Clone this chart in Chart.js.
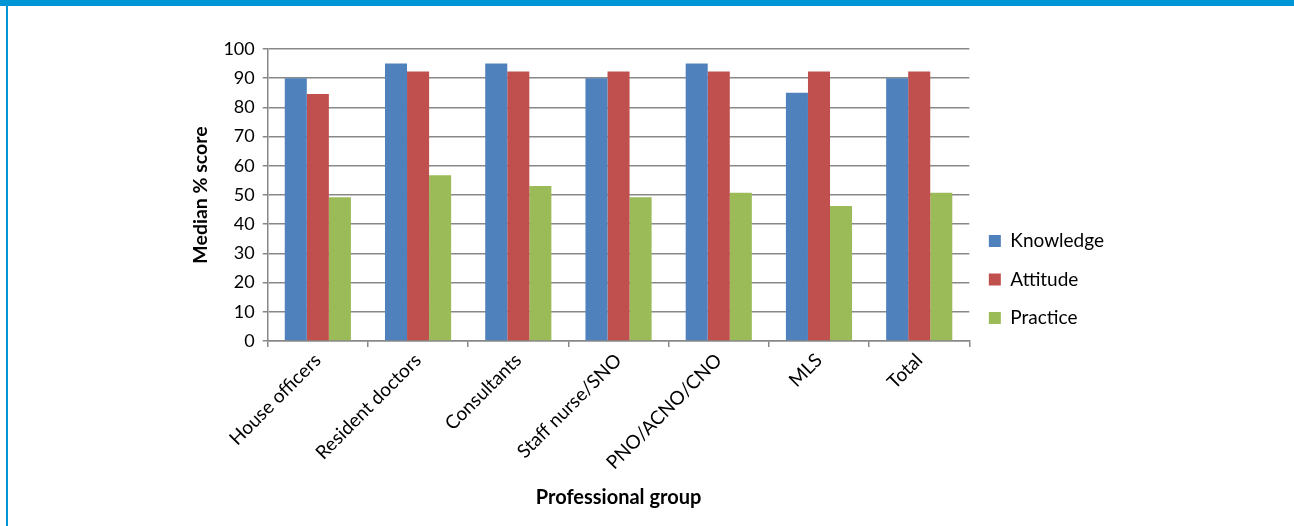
<!DOCTYPE html>
<html>
<head>
<meta charset="utf-8">
<script src="https://cdn.jsdelivr.net/npm/chart.js@4"></script>
<style>
  html, body { margin: 0; padding: 0; background: #fff; }
  body { width: 1294px; height: 526px; position: relative; overflow: hidden; }
  #topbar { position: absolute; left: 0; top: 0; width: 1294px; height: 6px; background: #0096D6; }
  #leftbar { position: absolute; left: 6px; top: 6px; width: 2px; height: 520px; background: #0096D6; }
  #wrap { position: absolute; left: 8px; top: 6px; width: 1286px; height: 520px; }
</style>
</head>
<body>
<div id="topbar"></div>
<div id="leftbar"></div>
<div id="wrap"><canvas id="c"></canvas></div>
<script>
const categories = ["House officers", "Resident doctors", "Consultants", "Staff nurse/SNO", "PNO/ACNO/CNO", "MLS", "Total"];
const knowledge = [90, 95, 95, 90, 95, 85, 90];
const attitude = [84.6, 92.3, 92.3, 92.3, 92.3, 92.3, 92.3];
const practice = [49.2, 56.8, 53.1, 49.2, 50.8, 46.2, 50.8];
const seriesNames = ["Knowledge", "Attitude", "Practice"];
const yTitle = "Median % score";
const xTitle = "Professional group";

const FONT = "Lato, 'Open Sans', sans-serif";
Chart.defaults.font.family = FONT;
Chart.defaults.color = "#000";

new Chart(document.getElementById("c"), {
  type: "bar",
  data: {
    labels: categories,
    datasets: [
      { label: seriesNames[0], data: knowledge, backgroundColor: "#4F81BD" },
      { label: seriesNames[1], data: attitude, backgroundColor: "#C0504D" },
      { label: seriesNames[2], data: practice, backgroundColor: "#9BBB59" }
    ]
  },
  options: {
    responsive: true,
    maintainAspectRatio: false,
    animation: false,
    devicePixelRatio: 1,
    datasets: { bar: { categoryPercentage: 0.66, barPercentage: 1.0 } },
    layout: { padding: { left: 181, right: 180, top: 43, bottom: 16 } },
    plugins: {
      tooltip: { enabled: false },
      legend: {
        position: "right",
        align: "center",
        labels: {
          boxWidth: 12, boxHeight: 12, padding: 19.5,
          font: { size: 19, family: FONT }, color: "#000"
        }
      }
    },
    scales: {
      x: {
        grid: { display: true, drawOnChartArea: false, drawTicks: true, tickLength: 6, color: "#888", lineWidth: 1.5, offset: true },
        border: { display: true, color: "#888", width: 1.5 },
        ticks: { minRotation: 45, maxRotation: 45, autoSkip: false, font: { size: 19, family: FONT }, color: "#000", padding: 2 },
        title: { display: true, text: xTitle, font: { size: 20, weight: "bold", family: FONT }, color: "#000", padding: { top: 10, bottom: 0 } }
      },
      y: {
        min: 0, max: 100,
        ticks: { stepSize: 10, font: { size: 18, family: FONT }, color: "#000", padding: 8 },
        grid: { color: "#888", lineWidth: 1.5, tickLength: 5 },
        border: { display: true, color: "#888", width: 1.5 },
        title: { display: true, text: yTitle, font: { size: 19.5, weight: "bold", family: FONT }, color: "#000", padding: { top: 0, bottom: 3 } }
      }
    }
  }
});
</script>
</body>
</html>
